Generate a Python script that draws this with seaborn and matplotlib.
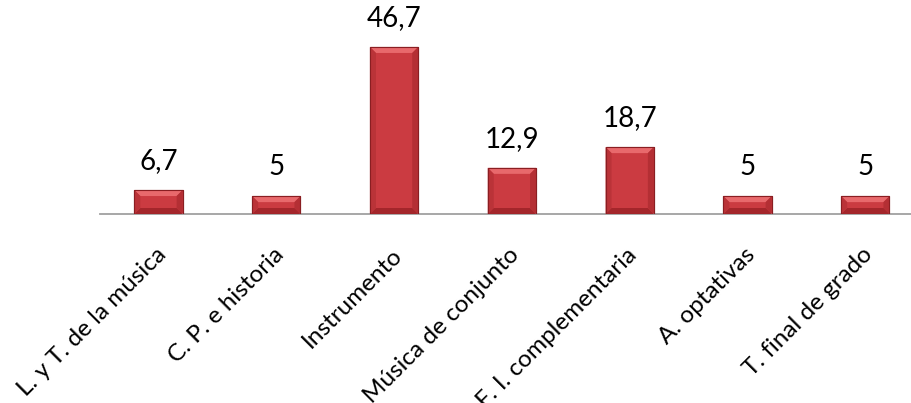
import matplotlib

matplotlib.use("Agg")
import matplotlib.pyplot as plt
import seaborn as sns
from matplotlib.patches import Polygon

categorias = ["L. y T. de la música", "C. P. e historia", "Instrumento",
              "Música de conjunto", "F. I. complementaria", "A. optativas",
              "T. final de grado"]
valores = [6.7, 5, 46.7, 12.9, 18.7, 5, 5]
etiquetas = ["6,7", "5", "46,7", "12,9", "18,7", "5", "5"]

sns.set_theme(style="white")
plt.rcParams["font.family"] = ["Lato", "DejaVu Sans"]

fig = plt.figure(figsize=(9.12, 4.03), dpi=100)
ax = fig.add_axes([99.6 / 912, (403 - 214) / 403, 824.6 / 912, 214.6 / 403])

sns.barplot(x=categorias, y=valores, color="#CB3B41", saturation=1, width=0.41,
            edgecolor="#8A1E22", linewidth=0.8, ax=ax, zorder=2)
ax.set_ylim(0, 60)
ax.set_xlim(-0.5, len(categorias) - 0.5)

# bisel tipo "3D" encima de cada barra
fig.canvas.draw()
x0, y0 = ax.transData.transform((0, 0))
x1, y1 = ax.transData.transform((1, 1))
dx = 6 / (x1 - x0)
dy = 6 / (y1 - y0)
for p in list(ax.patches):
    x, w, h = p.get_x(), p.get_width(), p.get_height()
    top = [(x, h), (x + w, h), (x + w - dx, h - dy), (x + dx, h - dy)]
    bot = [(x, 0), (x + w, 0), (x + w - dx, dy), (x + dx, dy)]
    izq = [(x, 0), (x, h), (x + dx, h - dy), (x + dx, dy)]
    der = [(x + w, 0), (x + w, h), (x + w - dx, h - dy), (x + w - dx, dy)]
    for pts, col in [(top, "#E8696C"), (bot, "#A4262B"),
                     (izq, "#BA3338"), (der, "#B42F34")]:
        ax.add_patch(Polygon(pts, closed=True, facecolor=col,
                             edgecolor="none", zorder=3))
    ax.add_patch(Polygon([(x, 0), (x, h), (x + w, h), (x + w, 0)], closed=True,
                         fill=False, edgecolor="#8A1E22", linewidth=0.8, zorder=4))

for i, (v, t) in enumerate(zip(valores, etiquetas)):
    ax.annotate(t, xy=(i, v), xytext=(0, 15), textcoords="offset points",
                ha="center", va="baseline", fontsize=20, color="black")

for i, c in enumerate(categorias):
    ax.annotate(c, xy=(i, 0), xycoords=("data", "axes fraction"),
                xytext=(3, -27), textcoords="offset points",
                rotation=45, rotation_mode="anchor", ha="right", va="center",
                fontsize=17.5, color="black", annotation_clip=False)

ax.set_xticks([])
ax.set_yticks([])
for s in ["top", "left", "right"]:
    ax.spines[s].set_visible(False)
ax.spines["bottom"].set_color("#A0A0A0")
ax.spines["bottom"].set_linewidth(1.3)
ax.set_xlabel("")
ax.set_ylabel("")

fig.savefig("out.png", dpi=100)
